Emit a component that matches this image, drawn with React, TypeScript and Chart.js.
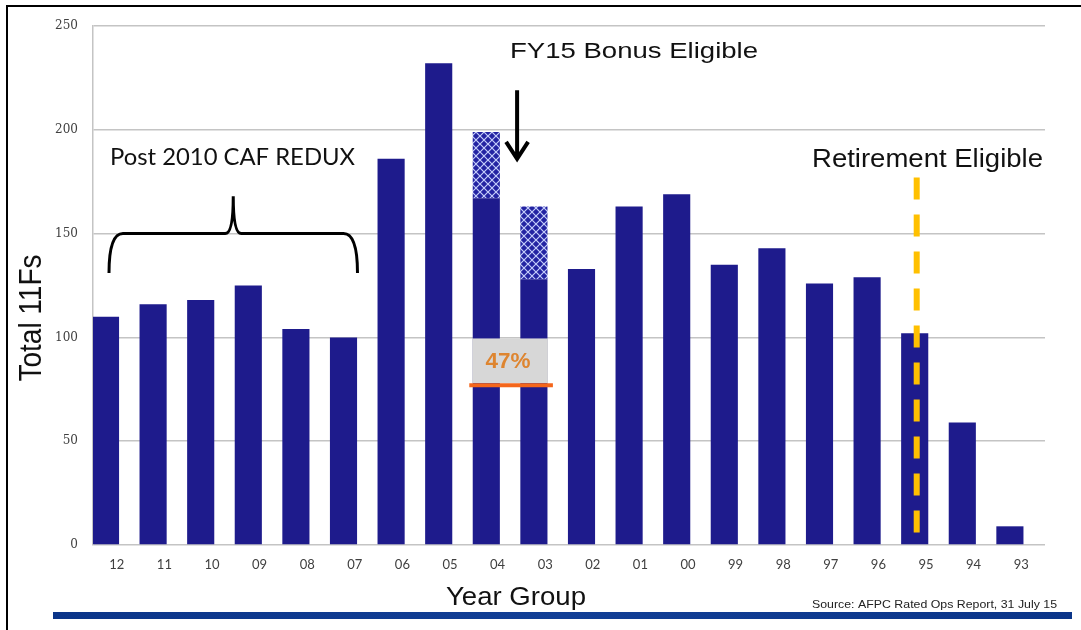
import { useEffect, useRef } from 'react';
import { Chart, registerables } from 'chart.js';

Chart.register(...registerables);

// ---- data ----
const yearGroups = ['12', '11', '10', '09', '08', '07', '06', '05', '04', '03', '02', '01', '00', '99', '98', '97', '96', '95', '94', '93'];
const solidValues = [110, 116, 118, 125, 104, 100, 186, 232, 167, 128, 133, 163, 169, 135, 143, 126, 129, 102, 59, 9];
const hatchedValues = [null, null, null, null, null, null, null, null, 32, 35, null, null, null, null, null, null, null, null, null, null];
const yTickValues = [0, 50, 100, 150, 200, 250];
const retentionLevel = [77];

const yAxisTitle = 'Total 11Fs';
const xAxisTitle = 'Year Group';
const bracketLabel = 'Post 2010 CAF REDUX';
const bonusLabel = 'FY15 Bonus Eligible';
const retireLabel = 'Retirement Eligible';
const retentionLabel = '47%';
const sourceNote = 'Source: AFPC Rated Ops Report, 31 July 15';

const BAR = '#1e1b8c';

function makePattern(): CanvasPattern | string {
  const c = document.createElement('canvas');
  c.width = 8;
  c.height = 8;
  const g = c.getContext('2d');
  if (!g) return BAR;
  g.fillStyle = '#2323a2';
  g.fillRect(0, 0, 8, 8);
  g.strokeStyle = 'rgba(205,215,255,0.95)';
  g.lineWidth = 1.2;
  g.beginPath();
  g.moveTo(0, 0); g.lineTo(8, 8);
  g.moveTo(8, 0); g.lineTo(0, 8);
  g.stroke();
  return g.createPattern(c, 'repeat') || BAR;
}

function fitText(ctx: CanvasRenderingContext2D, text: string, x: number, y: number, font: string, color: string, width: number, align: 'left' | 'center' | 'right') {
  ctx.save();
  ctx.font = font;
  ctx.fillStyle = color;
  ctx.textBaseline = 'alphabetic';
  ctx.textAlign = 'left';
  const w = ctx.measureText(text).width;
  const sx = width / w;
  const left = align === 'left' ? x : align === 'center' ? x - width / 2 : x - width;
  ctx.translate(left, y);
  ctx.scale(sx, 1);
  ctx.fillText(text, 0, 0);
  ctx.restore();
}

const annotations = {
  id: 'annotations',
  afterDatasetsDraw(chart: any) {
    const ctx: CanvasRenderingContext2D = chart.ctx;
    const xb = chart.scales.xb;
    const y = chart.scales.y;

    // 47% box + line
    const lineY = y.getPixelForValue(retentionLevel[0]);
    const boxL = xb.getPixelForValue(8) - 14;
    const boxR = xb.getPixelForValue(9) + 14;
    const boxT = y.getPixelForValue(99.5);
    ctx.save();
    ctx.fillStyle = '#d7d7d7';
    ctx.fillRect(boxL, boxT, boxR - boxL, lineY - 2 - boxT);
    ctx.strokeStyle = '#f4661b';
    ctx.lineWidth = 4;
    ctx.beginPath();
    ctx.moveTo(boxL - 3, lineY);
    ctx.lineTo(boxR + 5, lineY);
    ctx.stroke();
    ctx.restore();
    fitText(ctx, retentionLabel, (boxL + boxR) / 2 - 2, lineY - 17, 'bold 22px "Liberation Sans"', '#de8530', 45, 'center');

    // retirement dashed line
    const rx = xb.getPixelForValue(17) + 2;
    ctx.save();
    ctx.strokeStyle = '#ffc000';
    ctx.lineWidth = 6;
    ctx.setLineDash([22, 15]);
    ctx.beginPath();
    ctx.moveTo(rx, y.getPixelForValue(177));
    ctx.lineTo(rx, y.getPixelForValue(1));
    ctx.stroke();
    ctx.restore();

    // arrow
    const ax = (xb.getPixelForValue(8) + xb.getPixelForValue(9)) / 2 + 7;
    const aTop = y.getPixelForValue(219);
    const aBot = y.getPixelForValue(186);
    ctx.save();
    ctx.strokeStyle = '#000';
    ctx.lineWidth = 4;
    ctx.beginPath();
    ctx.moveTo(ax, aTop);
    ctx.lineTo(ax, aBot);
    ctx.moveTo(ax - 11, aBot - 17);
    ctx.lineTo(ax, aBot);
    ctx.lineTo(ax + 11, aBot - 17);
    ctx.stroke();
    ctx.restore();

    // brace
    const L = xb.getPixelForValue(0) + 3.5;
    const R = xb.getPixelForValue(5) + 14;
    const C = (L + R) / 2;
    const mid = y.getPixelForValue(150);
    const bot = y.getPixelForValue(131);
    const top = y.getPixelForValue(168);
    ctx.save();
    ctx.strokeStyle = '#000';
    ctx.lineWidth = 3;
    ctx.beginPath();
    ctx.moveTo(L, bot);
    ctx.quadraticCurveTo(L, mid, L + 14, mid);
    ctx.lineTo(C - 8, mid);
    ctx.quadraticCurveTo(C, mid, C, top);
    ctx.quadraticCurveTo(C, mid, C + 8, mid);
    ctx.lineTo(R - 14, mid);
    ctx.quadraticCurveTo(R, mid, R, bot);
    ctx.stroke();
    ctx.restore();
  },
  afterDraw(chart: any) {
    const ctx: CanvasRenderingContext2D = chart.ctx;
    fitText(ctx, bracketLabel, 110, 165, '24px Lato', '#111', 245, 'left');
    fitText(ctx, bonusLabel, 510, 58, '22px "Liberation Sans"', '#111', 248, 'left');
    fitText(ctx, retireLabel, 812, 167, '26px "Liberation Sans"', '#111', 231, 'left');
    fitText(ctx, xAxisTitle, 516, 605, '25px "Liberation Sans"', '#111', 140, 'center');
    fitText(ctx, sourceNote, 1057, 608, '11px "Liberation Sans"', '#222', 245, 'right');

    // y axis title (rotated)
    ctx.save();
    ctx.font = '26px "Liberation Sans"';
    ctx.fillStyle = '#111';
    ctx.textAlign = 'center';
    ctx.textBaseline = 'alphabetic';
    const w = ctx.measureText(yAxisTitle).width;
    ctx.translate(41, 318);
    ctx.rotate(-Math.PI / 2);
    ctx.scale(127 / w, 1.2);
    ctx.fillText(yAxisTitle, 0, 0);
    ctx.restore();

    // bottom blue rule
    ctx.save();
    const grad = ctx.createLinearGradient(53, 0, 1072, 0);
    grad.addColorStop(0, '#0b3589');
    grad.addColorStop(0.5, '#123f96');
    grad.addColorStop(1, '#0b3589');
    ctx.fillStyle = grad;
    ctx.fillRect(53, 612, 1072 - 53, 7);
    ctx.restore();

    // frame
    ctx.save();
    ctx.strokeStyle = '#000';
    ctx.lineWidth = 2;
    ctx.beginPath();
    ctx.moveTo(7, 630);
    ctx.lineTo(7, 6);
    ctx.lineTo(1081, 6);
    ctx.stroke();
    ctx.restore();
  },
};

export default function App() {
  const ref = useRef<HTMLCanvasElement | null>(null);

  useEffect(() => {
    document.body.style.margin = '0';
    const canvas = ref.current;
    if (!canvas) return;
    const pattern = makePattern();
    const chart = new Chart(canvas, {
      type: 'bar',
      data: {
        labels: yearGroups,
        datasets: [
          {
            label: 'Total',
            data: solidValues.map((v, i) => ({ x: i, y: v })),
            backgroundColor: BAR,
            xAxisID: 'xb',
            barPercentage: 0.57,
            categoryPercentage: 1,
          },
          {
            label: 'Bonus eligible',
            data: hatchedValues.map((v, i) => ({ x: i, y: v })),
            backgroundColor: pattern as any,
            xAxisID: 'xb',
            barPercentage: 0.57,
            categoryPercentage: 1,
          },
        ],
      } as any,
      options: {
        responsive: false,
        animation: false,
        layout: { padding: { left: 0, right: 36, top: 26, bottom: 0 } },
        plugins: {
          legend: { display: false },
          title: { display: false },
          tooltip: { enabled: false },
        },
        scales: {
          x: {
            type: 'category',
            position: 'bottom',
            offset: true,
            grid: { display: false, drawTicks: false },
            border: { display: false },
            ticks: {
              color: '#404040',
              font: { family: 'Lato', size: 13 },
              padding: 12,
              maxRotation: 0,
              autoSkip: false,
            },
            afterFit: (s: any) => { s.height = 85; },
          },
          xb: {
            type: 'linear',
            display: false,
            stacked: true,
            offset: false,
            grid: { offset: false },
            bounds: 'ticks',
            min: -0.2626,
            max: 19.7374,
          },
          y: {
            type: 'linear',
            stacked: true,
            min: 0,
            max: 250,
            grid: { color: '#c4c4c4', lineWidth: 1.5, drawTicks: false },
            border: { display: true, color: '#c4c4c4', width: 1.5 },
            ticks: {
              stepSize: 50,
              padding: 15,
              color: '#404040',
              font: { family: 'DejaVu Serif', size: 12 },
              callback: (v: any) => (yTickValues.includes(Number(v)) ? String(v) : ''),
            },
            afterFit: (s: any) => { s.width = 93; },
          },
        },
      } as any,
      plugins: [annotations],
    });
    return () => chart.destroy();
  }, []);

  return (
    <div style={{ position: 'relative', width: 1081, height: 630, background: '#fff' }}>
      <canvas ref={ref} width={1081} height={630} style={{ display: 'block' }} />
    </div>
  );
}
